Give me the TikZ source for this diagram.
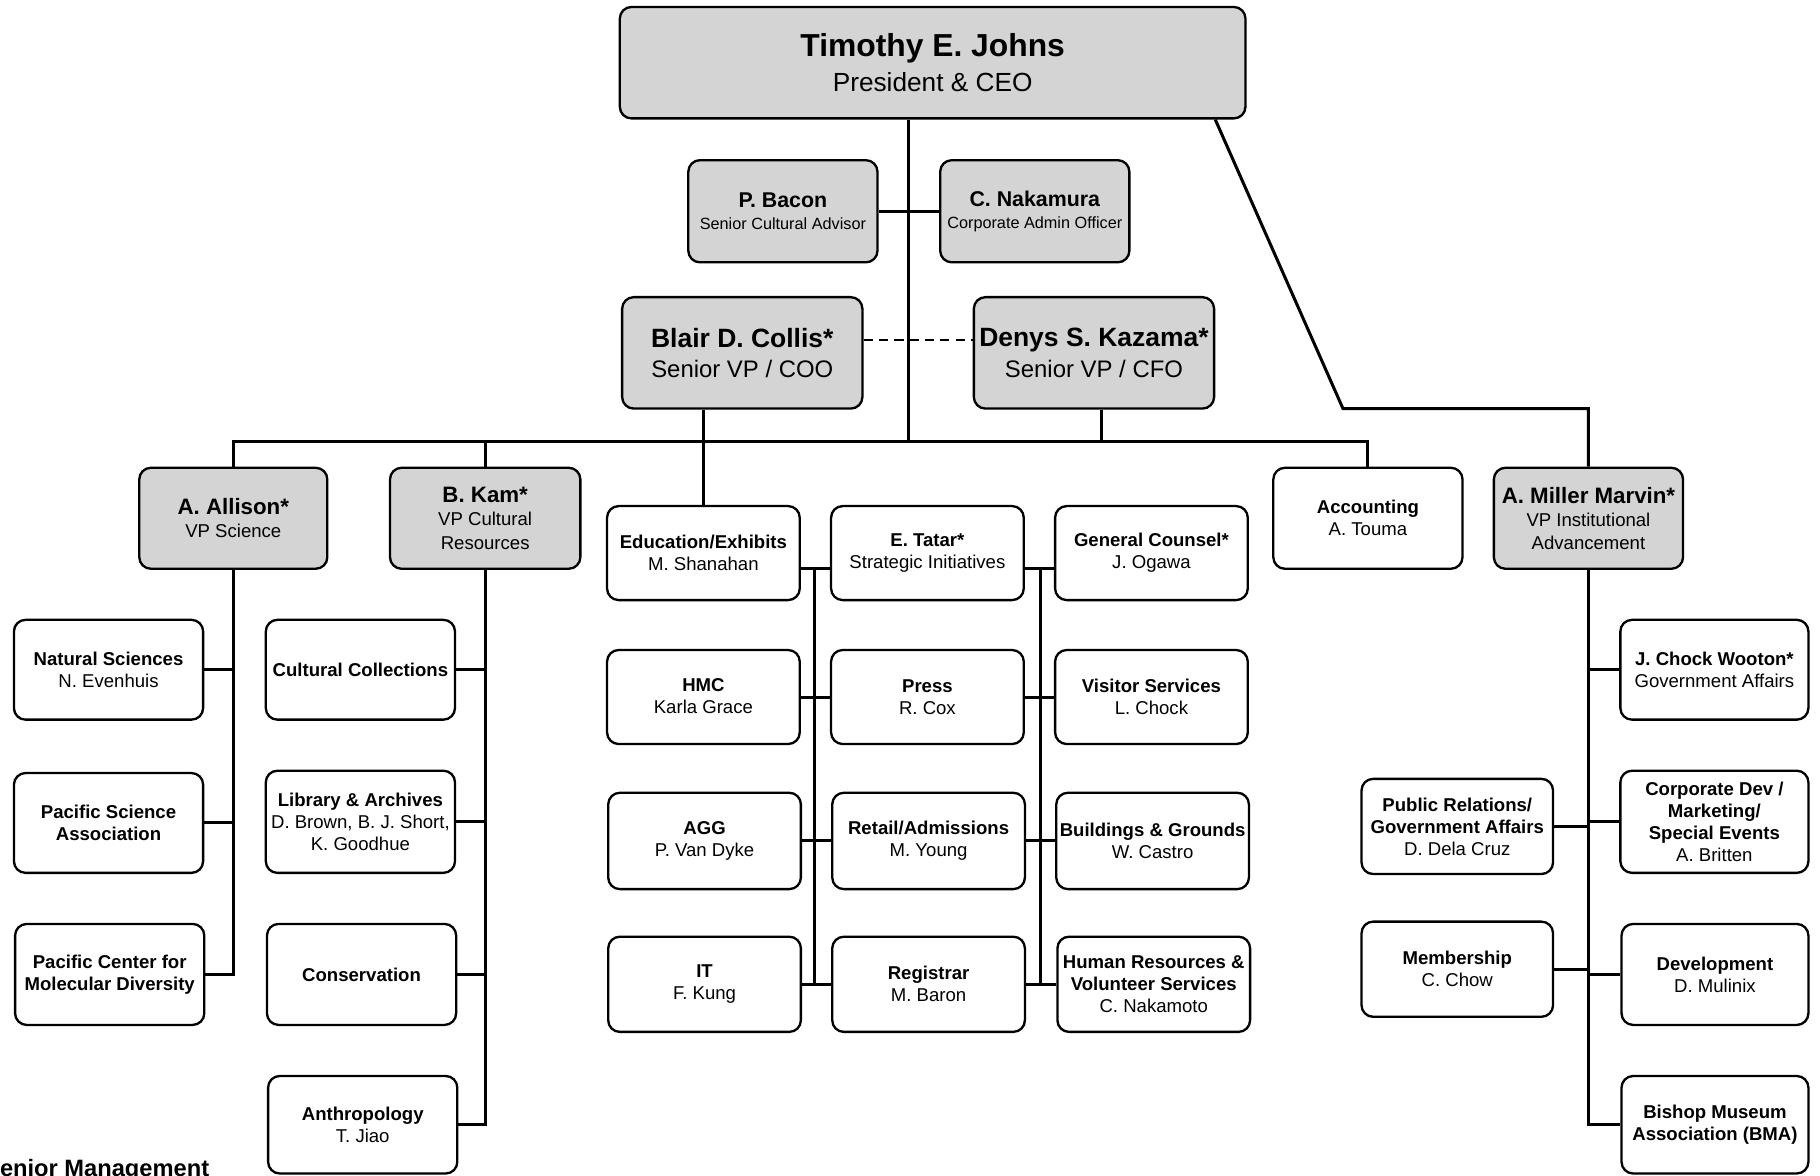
\documentclass[tikz,border=0pt]{standalone}
\usepackage{fontspec}
\setmainfont{Liberation Sans}
\definecolor{boxgrey}{gray}{0.83}

% box: name, x1, y1, x2, y2, style, text
\newcommand\orgbox[7]{%
  \node[#6, minimum width={(#4-#2)*0.5pt}, minimum height={(#5-#3)*0.5pt}]
    (#1) at ({(#2+#4)/2},{(#3+#5)/2}) {#7};}

\tikzset{
  unitbox/.style={draw=black, line width=1pt, rounded corners=5pt, inner sep=0pt,
    align=center, font=\fontsize{8}{9.5}\selectfont},
  vpbox/.style={unitbox, fill=boxgrey, font=\fontsize{8}{10}\selectfont},
  plainbox/.style={unitbox, fill=white},
  link/.style={line width=1.3pt, line join=miter},
  peerlink/.style={line width=1.1pt, dash pattern=on 4pt off 2.6pt},
}

\begin{document}
\begin{tikzpicture}[x=0.5pt, y=-0.5pt]
\path[use as bounding box] (0,0) rectangle (1568,1013);
\clip (0,0) rectangle (1568,1013);
\fill[white] (0,0) rectangle (1568,1013);

% junction points of the connectors
\coordinate (trunk) at (783,380);
\coordinate (dashy) at (0,293);
\coordinate (kzx) at (949,0);
\coordinate (r1) at (0,490);
\coordinate (vA) at (702,490);
\coordinate (vB) at (896,490);
\coordinate (mmstart) at (1047,102);
\coordinate (mmbend) at (1157,352);

% executive level
\orgbox{ceo}{534}{6}{1073}{102}{vpbox, font=\fontsize{11.3}{15}\selectfont}
  {{\fontsize{13.7}{15}\selectfont\bfseries Timothy E. Johns}\\President \& CEO}
\orgbox{bacon}{593}{138}{756}{226}{vpbox, font=\fontsize{7}{9.5}\selectfont}
  {{\fontsize{9.2}{9.5}\selectfont\bfseries P. Bacon}\\Senior Cultural Advisor}
\orgbox{nakamura}{810}{138}{973}{226}{vpbox, font=\fontsize{7}{9.5}\selectfont}
  {{\fontsize{9.2}{9.5}\selectfont\bfseries C. Nakamura}\\Corporate Admin Officer}
\orgbox{collis}{536}{256}{743}{352}{vpbox, font=\fontsize{10.3}{13}\selectfont}
  {{\fontsize{11.4}{13}\selectfont\bfseries Blair D. Collis*}\\Senior VP / COO}
\orgbox{kazama}{839}{256}{1046}{352}{vpbox, font=\fontsize{10.3}{13}\selectfont}
  {{\fontsize{11.4}{13}\selectfont\bfseries Denys S. Kazama*}\\Senior VP / CFO}

% vice presidents and accounting
\orgbox{allison}{120}{403}{282}{490}{vpbox}
  {{\fontsize{9.6}{10}\selectfont\bfseries A. Allison*}\\VP Science}
\orgbox{kam}{336}{403}{500}{490}{vpbox}
  {{\fontsize{9.6}{10}\selectfont\bfseries B. Kam*}\\VP Cultural\\Resources}
\orgbox{accounting}{1097}{403}{1260}{490}{plainbox}
  {\textbf{Accounting}\\A. Touma}
\orgbox{miller}{1287}{403}{1450}{490}{vpbox}
  {{\fontsize{9.6}{10}\selectfont\bfseries A. Miller Marvin*}\\VP Institutional\\Advancement}

% science
\orgbox{natsci}{12}{534}{175}{620}{plainbox}{\textbf{Natural Sciences}\\N. Evenhuis}
\orgbox{psa}{12}{666}{175}{752}{plainbox}{\textbf{Pacific Science}\\\textbf{Association}}
\orgbox{pcmd}{13}{796}{176}{883}{plainbox}{\textbf{Pacific Center for}\\\textbf{Molecular Diversity}}

% cultural resources
\orgbox{cultcoll}{229}{534}{392}{620}{plainbox}{\textbf{Cultural Collections}}
\orgbox{library}{229}{664}{392}{752}{plainbox}
  {\textbf{Library \& Archives}\\D. Brown, B. J. Short,\\K. Goodhue}
\orgbox{conservation}{230}{796}{393}{883}{plainbox}{\textbf{Conservation}}
\orgbox{anthro}{231}{927}{394}{1011}{plainbox}{\textbf{Anthropology}\\T. Jiao}

% operations
\orgbox{edu}{523}{436}{689}{517}{plainbox}{\textbf{Education/Exhibits}\\M. Shanahan}
\orgbox{tatar}{716}{436}{882}{517}{plainbox}{\textbf{E. Tatar*}\\Strategic Initiatives}
\orgbox{gc}{909}{436}{1075}{517}{plainbox}{\textbf{General Counsel*}\\J. Ogawa}
\orgbox{hmc}{523}{560}{689}{641}{plainbox, text height=14pt}{\textbf{HMC}\\Karla Grace}
\orgbox{press}{716}{560}{882}{641}{plainbox}{\textbf{Press}\\R. Cox}
\orgbox{visitor}{909}{560}{1075}{641}{plainbox}{\textbf{Visitor Services}\\L. Chock}
\orgbox{agg}{524}{683}{690}{766}{plainbox}{\textbf{AGG}\\P. Van Dyke}
\orgbox{retail}{717}{683}{883}{766}{plainbox}{\textbf{Retail/Admissions}\\M. Young}
\orgbox{bldg}{910}{683}{1076}{766}{plainbox}{\textbf{Buildings \& Grounds}\\W. Castro}
\orgbox{it}{524}{807}{690}{889}{plainbox}{\textbf{IT}\\F. Kung}
\orgbox{registrar}{717}{807}{883}{889}{plainbox}{\textbf{Registrar}\\M. Baron}
\orgbox{hr}{911}{807}{1077}{889}{plainbox}
  {\textbf{Human Resources \&}\\\textbf{Volunteer Services}\\C. Nakamoto}

% institutional advancement
\orgbox{wooton}{1396}{534}{1558}{620}{plainbox}{\textbf{J. Chock Wooton*}\\Government Affairs}
\orgbox{corpdev}{1396}{664}{1558}{752}{plainbox}
  {\textbf{Corporate Dev /}\\\textbf{Marketing/}\\\textbf{Special Events}\\A. Britten}
\orgbox{pr}{1173}{671}{1338}{753}{plainbox}
  {\textbf{Public Relations/}\\\textbf{Government Affairs}\\D. Dela Cruz}
\orgbox{membership}{1173}{794}{1338}{876}{plainbox}{\textbf{Membership}\\C. Chow}
\orgbox{development}{1397}{796}{1558}{883}{plainbox}{\textbf{Development}\\D. Mulinix}
\orgbox{bma}{1397}{927}{1558}{1011}{plainbox}
  {\textbf{Bishop Museum}\\\textbf{Association (BMA)}}

% legend, running off the lower left edge
\node[anchor=base west, inner sep=0pt, font=\fontsize{10.2}{12}\selectfont\bfseries]
  (legend) at (-14,1014) {Senior Management};

% --- connectors ---
\draw[link] (ceo.south -| trunk) -- (trunk);
\draw[link] (bacon.east) -- (nakamura.west);
\draw[peerlink] (collis.east |- dashy) -- (kazama.west |- dashy);

% main bus
\draw[link] (allison.north) -- (allison.north |- trunk) -- (accounting.north |- trunk)
  -- (accounting.north);
\draw[link] (kam.north) -- (kam.north |- trunk);
\draw[link] (kazama.south -| kzx) -- (trunk -| kzx);
\draw[link] (collis.south -| edu.north) -- (edu.north);

% advancement branch from the president
\draw[link] (ceo.south -| mmstart) -- (mmbend) -| (miller.north);

% science tree
\draw[link] (allison.south) |- (pcmd.east);
\draw[link] (natsci.east) -- (natsci.east -| allison.south);
\draw[link] (psa.east) -- (psa.east -| allison.south);

% cultural resources tree
\draw[link] (kam.south) |- (anthro.east);
\draw[link] (cultcoll.east) -- (cultcoll.east -| kam.south);
\draw[link] (library.east) -- (library.east -| kam.south);
\draw[link] (conservation.east) -- (conservation.east -| kam.south);

% operations grid
\draw[link] (vA) -- (vA |- it.east);
\draw[link] (vB) -- (vB |- hr.west);
\draw[link] (edu.east |- r1) -- (tatar.west |- r1);
\draw[link] (tatar.east |- r1) -- (gc.west |- r1);
\draw[link] (hmc.east) -- (press.west);
\draw[link] (press.east) -- (visitor.west);
\draw[link] (agg.east) -- (retail.west);
\draw[link] (retail.east) -- (bldg.west);
\draw[link] (it.east) -- (registrar.west);
\draw[link] (registrar.east) -- (hr.west);

% advancement tree
\draw[link] (miller.south) |- (bma.west);
\draw[link] (wooton.west) -- (wooton.west -| miller.south);
\draw[link] (corpdev.west) -- (corpdev.west -| miller.south);
\draw[link] (pr.east) -- (pr.east -| miller.south);
\draw[link] (membership.east) -- (membership.east -| miller.south);
\draw[link] (development.west) -- (development.west -| miller.south);
\end{tikzpicture}
\end{document}
